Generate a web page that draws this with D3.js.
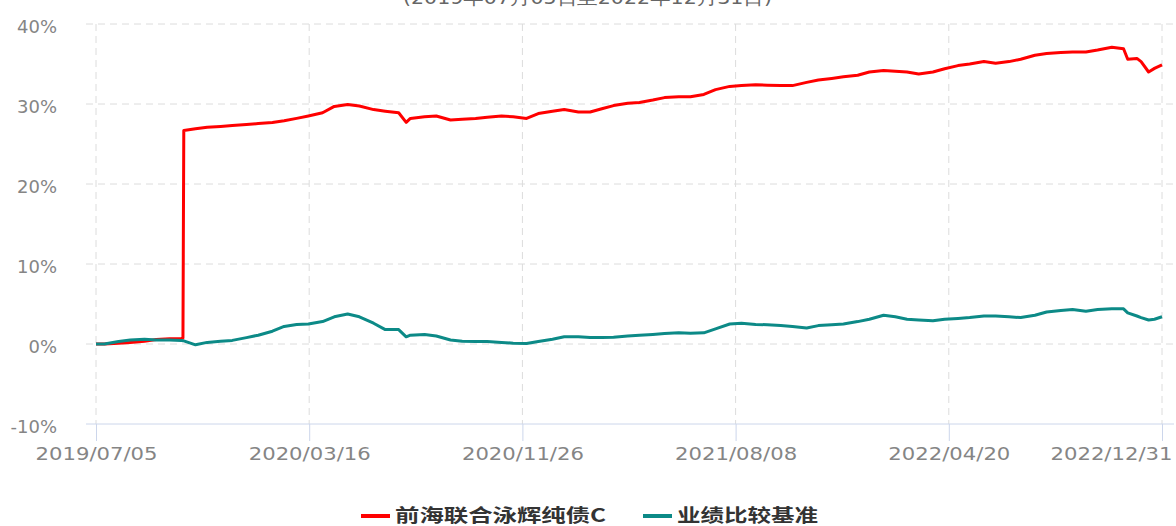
<!DOCTYPE html>
<html>
<head>
<meta charset="utf-8">
<script src="https://cdn.jsdelivr.net/npm/d3@7"></script>
<style>
  body { margin: 0; background: #fff; }
  svg { display: block; font-family: "DejaVu Sans", sans-serif; }
</style>
</head>
<body>
<svg class="chart" width="1176" height="526"></svg>
<script>

const dates = [
  '2019-07-05','2019-07-15','2019-08-01','2019-08-15','2019-09-01','2019-09-15','2019-10-01','2019-10-15','2019-10-17','2019-10-18',
  '2019-11-01','2019-11-15','2019-12-01','2019-12-15','2020-01-01','2020-01-15','2020-02-01','2020-02-15','2020-03-01','2020-03-15',
  '2020-04-01','2020-04-15','2020-05-01','2020-05-15','2020-06-01','2020-06-15','2020-07-01','2020-07-10','2020-07-15','2020-08-01',
  '2020-08-15','2020-09-01','2020-09-15','2020-10-01','2020-10-15','2020-11-01','2020-11-15','2020-12-01','2020-12-15','2021-01-01',
  '2021-01-15','2021-02-01','2021-02-15','2021-03-01','2021-03-15','2021-04-01','2021-04-15','2021-05-01','2021-05-15','2021-06-01',
  '2021-06-15','2021-07-01','2021-07-15','2021-08-01','2021-08-15','2021-09-01','2021-09-15','2021-10-01','2021-10-15','2021-11-01',
  '2021-11-15','2021-12-01','2021-12-15','2022-01-01','2022-01-15','2022-02-01','2022-02-15','2022-03-01','2022-03-15','2022-04-01',
  '2022-04-15','2022-05-01','2022-05-15','2022-06-01','2022-06-15','2022-07-01','2022-07-15','2022-08-01','2022-08-15','2022-09-01',
  '2022-09-15','2022-10-01','2022-10-15','2022-11-01','2022-11-15','2022-11-20','2022-12-01','2022-12-06','2022-12-15','2022-12-22',
  '2022-12-31'
];

const fundValues = [
  0, 0, 0.1, 0.2, 0.35, 0.55, 0.65, 0.7, 0.75, 26.7,
  26.9, 27.1, 27.2, 27.3, 27.45, 27.55, 27.7, 27.9, 28.2, 28.5,
  28.9, 29.7, 29.95, 29.75, 29.3, 29.1, 28.9, 27.7, 28.2, 28.4,
  28.5, 28.0, 28.1, 28.2, 28.35, 28.5, 28.4, 28.2, 28.8, 29.1,
  29.3, 29.0, 29.0, 29.4, 29.8, 30.1, 30.2, 30.5, 30.8, 30.9,
  30.9, 31.2, 31.8, 32.2, 32.3, 32.4, 32.35, 32.3, 32.3, 32.7,
  33.0, 33.2, 33.4, 33.6, 34.0, 34.2, 34.1, 34.0, 33.75, 34.0,
  34.4, 34.8, 35.0, 35.3, 35.1, 35.3, 35.6, 36.1, 36.3, 36.45,
  36.5, 36.5, 36.75, 37.1, 36.9, 35.6, 35.7, 35.3, 34.0, 34.45,
  34.9
];

const benchValues = [
  0, 0, 0.3, 0.5, 0.6, 0.5, 0.5, 0.45, 0.4, 0.4,
  -0.1, 0.2, 0.35, 0.45, 0.8, 1.1, 1.6, 2.2, 2.45, 2.5,
  2.8, 3.4, 3.75, 3.4, 2.6, 1.8, 1.8, 0.9, 1.1, 1.2,
  1.0, 0.5, 0.35, 0.3, 0.3, 0.2, 0.1, 0.05, 0.3, 0.6,
  0.9, 0.9, 0.8, 0.8, 0.85, 1.0, 1.1, 1.2, 1.3, 1.4,
  1.35, 1.4, 1.9, 2.5, 2.6, 2.45, 2.4, 2.3, 2.2, 2.0,
  2.3, 2.4, 2.5, 2.8, 3.1, 3.6, 3.4, 3.1, 3.0, 2.9,
  3.1, 3.2, 3.3, 3.5, 3.5, 3.4, 3.3, 3.6, 4.0, 4.2,
  4.3, 4.1, 4.3, 4.4, 4.4, 3.9, 3.5, 3.3, 3.0, 3.1,
  3.4
];

const seriesNames = ['前海联合泳辉纯债C', '业绩比较基准'];
const seriesColors = ['#ff0000', '#0c8a87'];

const yTicks = [-10, 0, 10, 20, 30, 40];
const xTickDates = ['2019-07-05', '2020-03-16', '2020-11-26', '2021-08-08', '2022-04-20', '2022-12-31'];
const xTickLabels = ['2019/07/05', '2020/03/16', '2020/11/26', '2021/08/08', '2022/04/20', '2022/12/31'];

const title = '(2019年07月05日至2022年12月31日)';

const parse = d3.timeParse('%Y-%m-%d');

const svg = d3.select('.chart');

const gridLeft = 86, gridRight = 1174;

const x = d3.scaleTime()
  .domain([parse(dates[0]), parse(dates[dates.length - 1])])
  .range([96, 1162]);

const y = d3.scaleLinear()
  .domain([-10, 40])
  .range([424, 24]);

// title, mostly cut off by the top edge (as in the source picture)
svg.append('text')
  .attr('x', 403)
  .attr('y', 4)
  .attr('fill', '#666')
  .attr('font-size', 18)
  .attr('textLength', 369)
  .attr('lengthAdjust', 'spacingAndGlyphs')
  .text(title);

// horizontal grid
svg.append('g')
  .selectAll('line')
  .data(yTicks.filter(d => d !== -10))
  .join('line')
  .attr('x1', gridLeft)
  .attr('x2', gridRight)
  .attr('y1', d => y(d))
  .attr('y2', d => y(d))
  .attr('stroke', '#dcdcdc')
  .attr('stroke-dasharray', '7,5');

// vertical grid
svg.append('g')
  .selectAll('line')
  .data(xTickDates)
  .join('line')
  .attr('x1', d => x(parse(d)))
  .attr('x2', d => x(parse(d)))
  .attr('y1', y(40))
  .attr('y2', y(-10))
  .attr('stroke', '#dcdcdc')
  .attr('stroke-dasharray', '7,5');

// y labels
svg.append('g')
  .selectAll('text')
  .data(yTicks)
  .join('text')
  .attr('x', 57)
  .attr('y', d => y(d) + 8.5)
  .attr('text-anchor', 'end')
  .attr('fill', '#858585')
  .attr('font-size', 18)
  .text(d => d + '%');

// x axis
const xAxis = d3.axisBottom(x)
  .tickValues(xTickDates.map(parse))
  .tickSize(17)
  .tickSizeOuter(0)
  .tickFormat((d, i) => xTickLabels[i]);

const gx = svg.append('g')
  .attr('transform', `translate(0,${y(-10)})`)
  .call(xAxis);

gx.select('.domain').remove();
gx.append('line')
  .attr('x1', gridLeft)
  .attr('x2', gridRight)
  .attr('stroke', '#ccd6eb');

gx.selectAll('.tick line').attr('stroke', '#ccd6eb');
gx.selectAll('.tick text')
  .attr('y', 36)
  .attr('dy', null)
  .attr('fill', '#858585')
  .attr('font-size', 18)
  .attr('font-family', '"DejaVu Sans", sans-serif')
  .attr('textLength', 122)
  .attr('lengthAdjust', 'spacingAndGlyphs');
gx.selectAll('.tick text')
  .filter((d, i) => i === xTickDates.length - 1)
  .attr('text-anchor', 'end')
  .attr('x', 10);

// lines
const line = d3.line()
  .x((d, i) => x(parse(dates[i])))
  .y(d => y(d));

svg.append('g')
  .selectAll('path')
  .data([fundValues, benchValues])
  .join('path')
  .attr('d', line)
  .attr('fill', 'none')
  .attr('stroke', (d, i) => seriesColors[i])
  .attr('stroke-width', 3)
  .attr('stroke-linejoin', 'round');

// legend
const legendX = [361, 643];
const legendTextLen = [211, 141];

const lg = svg.append('g')
  .selectAll('g')
  .data(seriesNames)
  .join('g')
  .attr('transform', (d, i) => `translate(${legendX[i]},516)`);

lg.append('line')
  .attr('x1', 0)
  .attr('x2', 29)
  .attr('stroke', (d, i) => seriesColors[i])
  .attr('stroke-width', 4);

lg.append('text')
  .attr('x', 34)
  .attr('y', 6)
  .attr('fill', '#333')
  .attr('font-size', 18)
  .attr('font-weight', 'bold')
  .attr('font-family', '"Noto Sans CJK SC", sans-serif')
  .attr('textLength', (d, i) => legendTextLen[i])
  .attr('lengthAdjust', 'spacingAndGlyphs')
  .text(d => d);

</script>
</body>
</html>
